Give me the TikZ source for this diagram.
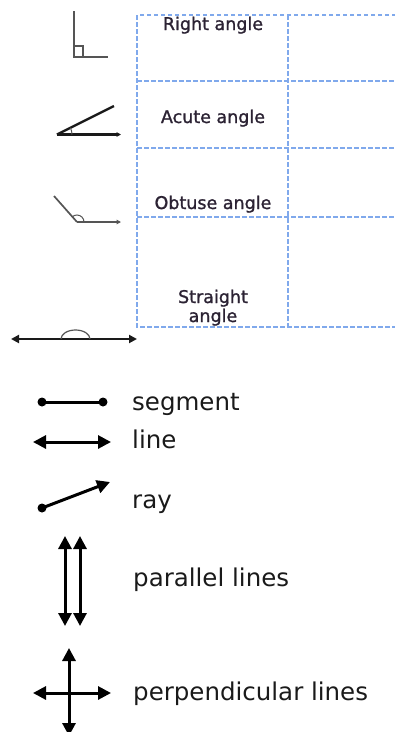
\documentclass[tikz,border=0pt]{standalone}
\usepackage{fontspec}
\setmainfont{DejaVu Sans}
\newfontfamily\tablefont[FakeBold=1.2]{DejaVu Sans}
\usetikzlibrary{arrows.meta}
\definecolor{gridblue}{HTML}{80A9EC}
\definecolor{labelink}{HTML}{2B2233}
\definecolor{graystroke}{HTML}{555555}
\definecolor{darkstroke}{HTML}{1A1A1A}
\tikzset{
  gridline/.style={draw=gridblue, line width=1.6pt, dash pattern=on 4.5pt off 2.5pt},
  tablelabel/.style={anchor=base, inner sep=0pt, text=labelink, font=\tablefont\fontsize{17.5}{21}\selectfont},
  keylabel/.style={anchor=base west, inner sep=0pt, text=darkstroke, font=\fontsize{24.5}{28}\selectfont},
  graystk/.style={draw=graystroke, line width=1.7pt},
  darkstk/.style={draw=darkstroke, line width=2.4pt},
  keystk/.style={draw=black, line width=3pt},
  bigtip/.style={arrows={-Triangle[length=13pt,width=13pt]}},
  bigtips/.style={arrows={Triangle[length=13pt,width=13pt]-Triangle[length=13pt,width=13pt]}},
  smalltips/.style={arrows={Triangle[length=8pt,width=8pt]-Triangle[length=8pt,width=8pt]}},
  tinytip/.style={arrows={-Triangle[length=4.5pt,width=4.5pt]}},
}
\begin{document}
\begin{tikzpicture}[x=1pt,y=-1pt]
\useasboundingbox (0,0) rectangle (395,732);
% ---- table grid ----
\draw[gridline] (396,15) -- (137,15) -- (137,327) -- (396,327);
\draw[gridline] (288,15) -- (288,327);
\draw[gridline] (137,81) -- (396,81);
\draw[gridline] (137,148) -- (396,148);
\draw[gridline] (137,217) -- (396,217);
% ---- table labels ----
\node[tablelabel] (lright) at (213,30) {Right angle};
\node[tablelabel] (lacute) at (213,123) {Acute angle};
\node[tablelabel] (lobtuse) at (213,209) {Obtuse angle};
\node[tablelabel] (lstraight) at (213,303) {Straight};
\node[tablelabel] (lstraight2) at (213,322) {angle};
% ---- right angle ----
\coordinate (ra1) at (74,11);
\coordinate (rav) at (74,57);
\coordinate (ra2) at (108,57);
\draw[graystk] (ra1) -- (rav) -- (ra2);
\draw[graystroke, line width=1.2pt] (74,46) -- (83,46) -- (83,57);
% ---- acute angle ----
\coordinate (acv) at (57,134.5);
\coordinate (ac1) at (121,134.5);
\coordinate (ac2) at (114,106);
\draw[darkstk, tinytip] (acv) -- (ac1);
\draw[darkstk] (acv) -- (ac2);
\draw[graystroke, line width=1pt] (acv) ++(15pt,0pt) arc[start angle=0, end angle=26.6, radius=15pt];
% ---- obtuse angle ----
\coordinate (obv) at (77,222);
\coordinate (ob1) at (54,196);
\coordinate (ob2) at (121,222);
\draw[graystk, tinytip] (obv) -- (ob2);
\draw[graystk] (obv) -- (ob1);
\draw[graystroke, line width=1pt] (obv) ++(7pt,0pt) arc[start angle=0, end angle=131.5, radius=7pt];
% ---- straight angle ----
\coordinate (st1) at (11,339);
\coordinate (st2) at (137,339);
\draw[darkstk, smalltips] (st1) -- (st2);
\draw[graystroke, line width=1.2pt] (90,339) arc[start angle=0, end angle=180, x radius=14.5pt, y radius=9pt];
% ---- segment ----
\coordinate (sg1) at (42,402);
\coordinate (sg2) at (103,402);
\draw[keystk] (sg1) -- (sg2);
\fill (sg1) circle (4.5pt);
\fill (sg2) circle (4.5pt);
\node[keylabel] (tseg) at (132,410) {segment};
% ---- line ----
\coordinate (ln1) at (33,442);
\coordinate (ln2) at (111,442);
\draw[keystk, bigtips] (ln1) -- (ln2);
\node[keylabel] (tline) at (132,448) {line};
% ---- ray ----
\coordinate (ry1) at (42,508);
\coordinate (ry2) at (110,482);
\draw[keystk, bigtip] (ry1) -- (ry2);
\fill (ry1) circle (4.5pt);
\node[keylabel] (tray) at (132,508) {ray};
% ---- parallel lines ----
\coordinate (pa1) at (65,536);
\coordinate (pa2) at (65,626);
\coordinate (pb1) at (80,536);
\coordinate (pb2) at (80,626);
\draw[keystk, bigtips] (pa1) -- (pa2);
\draw[keystk, bigtips] (pb1) -- (pb2);
\node[keylabel] (tpar) at (133,586) {parallel lines};
% ---- perpendicular lines ----
\coordinate (pv1) at (69,648);
\coordinate (pv2) at (69,736);
\coordinate (ph1) at (33,693);
\coordinate (ph2) at (111,693);
\draw[keystk, bigtips] (pv1) -- (pv2);
\draw[keystk, bigtips] (ph1) -- (ph2);
\node[keylabel] (tperp) at (133,700) {perpendicular lines};
\end{tikzpicture}
\end{document}
